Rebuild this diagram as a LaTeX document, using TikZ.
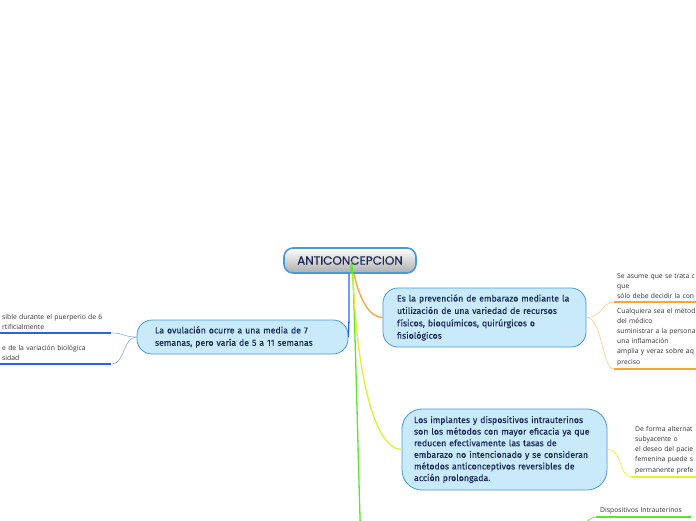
\documentclass[tikz,border=0pt]{standalone}
\usepackage{fontspec}
\setmainfont{Open Sans}
\newfontfamily\titlefont[FakeBold=0.4]{Poppins}
\newfontfamily\topicfont[FakeBold=0.25]{Fira Sans}
\usetikzlibrary{positioning,calc}
\definecolor{navy}{HTML}{1B2A55}
\definecolor{nodefill}{HTML}{C8EAFA}
\definecolor{nodeline}{HTML}{4A98D8}
\definecolor{brblue}{HTML}{2A62E8}
\definecolor{brorange}{HTML}{F8A43A}
\definecolor{bryellow}{HTML}{E2F02E}
\definecolor{brgreen}{HTML}{5EE42A}
\definecolor{leaftext}{HTML}{333333}
\tikzset{central/.style={draw=nodeline,line width=1.6pt,rounded corners=9pt,top color=white,bottom color=black!32,minimum width=132pt,minimum height=25pt,font=\titlefont\fontsize{12}{14}\selectfont,text=navy},topic/.style={draw=nodeline,fill=nodefill,line width=0.8pt,rounded corners=15pt,align=left,text=navy,font=\topicfont\fontsize{8.8}{12.4}\selectfont,text width=175pt},leaf/.style={anchor=south west,align=left,text=leaftext,font=\fontsize{6.8}{10.2}\selectfont,inner xsep=3pt,inner ysep=3pt},branch/.style={line width=1.3pt},twig/.style={line width=0.6pt},underline/.style={line width=1.8pt}}

\begin{document}
\begin{tikzpicture}[x=1pt,y=-1pt]
\useasboundingbox (0,0) rectangle (696,520);
\clip (0,0) rectangle (696,520);
\node[central] (anticon) at (350,260.5) {ANTICONCEPCION};
\node[topic,inner xsep=18pt,minimum height=34pt] (ovul) at (242.5,337) {La ovulación ocurre a una media de 7\\semanas, pero varía de 5 a 11 semanas};
\node[topic,inner xsep=14pt,minimum height=59pt] (prev) at (484.5,317.5) {Es la prevención de embarazo mediante la\\utilización de una variedad de recursos\\físicos, bioquímicos, quirúrgicos o\\fisiológicos};
\node[topic,text width=181pt,inner xsep=12pt,minimum height=81pt,rounded corners=20pt,font=\topicfont\fontsize{8.8}{11.6}\selectfont] (impl) at (504.5,449.5) {Los implantes y dispositivos intrauterinos\\son los métodos con mayor eficacia ya que\\reducen efectivamente las tasas de\\embarazo no intencionado y se consideran\\métodos anticonceptivos reversibles de\\acción prolongada.};
\coordinate (greenend) at (361,524);
\draw[branch,brgreen] ([xshift=1pt]anticon.south) .. controls +(2,-80) and +(0,80) .. (greenend);
\draw[branch,brblue] ([xshift=-1pt]anticon.south) .. controls +(0,30) and +(1,-25) .. (ovul.east);
\draw[branch,bryellow] ([xshift=3pt]anticon.south) .. controls +(4,110) and +(-25,0) .. (impl.west);
\draw[branch,brorange] ([xshift=4pt]anticon.south) .. controls +(6,28) and +(-12,0) .. (prev.west);
% hojas de la izquierda
\node[leaf,text width=106pt] (puer) at (-1,333) {sible durante el puerperio de 6\\rtificialmente};
\node[leaf,text width=106pt] (varia) at (-1,364) {e de la variación biológica\\sidad};
\draw[underline,brblue] (puer.south west) -- (puer.south east);
\draw[underline,brblue] (varia.south west) -- (varia.south east);
\draw[twig,brblue!55] (ovul.west) .. controls +(-14,0) and +(14,0) .. (puer.south east);
\draw[twig,brblue!55] (ovul.west) .. controls +(-14,0) and +(14,0) .. (varia.south east);
% hojas de la derecha
\node[leaf,text width=110pt] (asume) at (614,302) {Se asume que se trata c\\que\\sólo debe decidir la con};
\node[leaf,text width=110pt] (cualq) at (614,369) {Cualquiera sea el métod\\del médico\\suministrar a la persona\\una inflamación\\amplia y veraz sobre aq\\preciso};
\draw[underline,brorange] (asume.south west) -- (asume.south east);
\draw[underline,brorange] (cualq.south west) -- (cualq.south east);
\draw[twig,brorange!60] (prev.east) .. controls +(16,0) and +(-12,0) .. (asume.south west);
\draw[twig,brorange!60] (prev.east) .. controls +(16,0) and +(-12,0) .. (cualq.south west);
\node[leaf,text width=80pt] (altern) at (632,477) {De forma alternat\\subyacente o\\el deseo del pacie\\femenina puede s\\permanente prefe};
\draw[underline,bryellow] (altern.south west) -- (altern.south east);
\draw[twig,bryellow] (impl.east) .. controls +(16,0) and +(-14,0) .. (altern.south west);
\node[leaf,text width=87pt,inner xsep=4pt,xshift=3pt] (dispo) at (593,517) {Dispositivos Intrauterinos};
\coordinate (dispoin) at (580,530);
\draw[underline,brgreen] (dispo.south west) -- (dispo.south east);
\draw[twig,brgreen] (dispoin) .. controls +(6,-8) and +(-6,0) .. (dispo.south west);
\end{tikzpicture}
\end{document}
